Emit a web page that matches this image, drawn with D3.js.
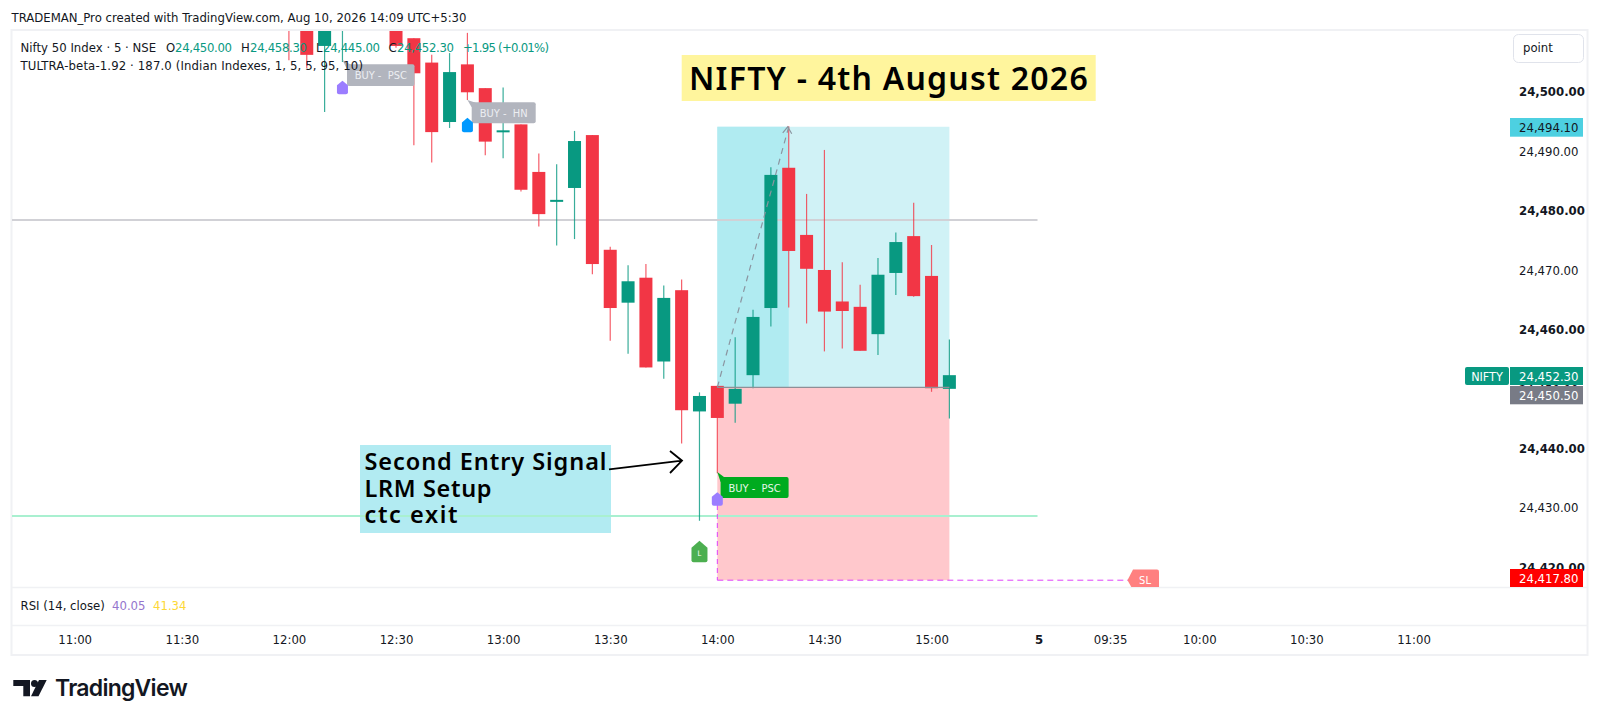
<!DOCTYPE html>
<html>
<head>
<meta charset="utf-8">
<script src="https://cdn.jsdelivr.net/npm/d3@7"></script>
<style>
  html, body { margin: 0; padding: 0; background: #fff; overflow: hidden; }
  text { font-family: "DejaVu Sans Condensed", "DejaVu Sans", sans-serif; }
</style>
</head>
<body>
<svg id="chart" width="1600" height="722"></svg>
<script>
// bar index counted in 5 minute bars from 11:00
const barIndex = [12, 13, 14, 15, 16, 17, 18, 19, 20, 21, 22, 23, 24, 25, 26, 27, 28, 29, 30, 31, 32, 33, 34, 35, 36, 37, 38, 39, 40, 41, 42, 43, 44, 45, 46, 47, 48, 49];
const opens = [24518, 24515, 24507.7, 24512, 24522, 24521, 24514, 24509.0, 24504.9, 24494.9, 24504.6, 24500.6, 24493.4, 24494.5, 24486.5, 24481.7, 24483.8, 24492.7, 24473.4, 24464.5, 24468.7, 24454.6, 24466.6, 24446.2, 24450.5, 24447.5, 24452.3, 24463.6, 24487.2, 24475.9, 24470.0, 24464.7, 24463.8, 24459.2, 24469.5, 24475.7, 24469.0, 24450.0];
const highs = [24519, 24516, 24514, 24520, 24523, 24522, 24515, 24509.0, 24506.2, 24506.5, 24509.9, 24500.6, 24500.7, 24494.5, 24489.6, 24487.8, 24493.4, 24492.7, 24473.9, 24470.8, 24471.0, 24467.4, 24468.4, 24449.4, 24450.5, 24458.7, 24463.3, 24487.3, 24494.2, 24482.8, 24490.2, 24471.3, 24467.5, 24472.0, 24476.3, 24481.3, 24474.2, 24458.3];
const lows = [24505.3, 24504.0, 24496.6, 24505.0, 24513, 24512, 24507.4, 24491.0, 24488.1, 24493.9, 24498.6, 24489.3, 24488.8, 24483.2, 24477.3, 24474.1, 24475.2, 24469.3, 24458.1, 24455.9, 24453.6, 24451.7, 24440.8, 24427.8, 24435.8, 24444.3, 24450.1, 24460.5, 24463.7, 24461.0, 24456.3, 24456.8, 24456.4, 24455.7, 24465.8, 24465.5, 24449.5, 24445.0];
const closes = [24512, 24506.2, 24513, 24518, 24516, 24515, 24507.7, 24503.1, 24493.2, 24503.3, 24499.9, 24491.6, 24493.5, 24483.5, 24479.4, 24481.8, 24491.7, 24471.0, 24463.6, 24468.1, 24453.6, 24465.3, 24446.4, 24448.8, 24445.1, 24450.0, 24462.1, 24486.0, 24473.2, 24470.2, 24463.0, 24463.1, 24456.4, 24469.2, 24474.7, 24465.6, 24450.1, 24452.3];

const priceTicks = [24500, 24490, 24480, 24470, 24460, 24450, 24440, 24430, 24420];
const timeTickBars = [0, 6, 12, 18, 24, 30, 36, 42, 48, 54, 58, 63, 69, 75];
const timeTickLabels = ['11:00', '11:30', '12:00', '12:30', '13:00', '13:30', '14:00', '14:30', '15:00', '5', '09:35', '10:00', '10:30', '11:00'];

// drawn levels and the long position tool
const greyLevel = 24478.4;
const greenLevel = 24428.6;
const entryPrice = 24450.5;
const entryLine = 24450.25; // the line sits a touch under the tag value
const targetPrice = 24494.1;
const stopPrice = 24417.8;
const lastPrice = 24452.3;
const positionBars = [36, 49];
const peakBar = 40;

const RED = '#f23645', GREEN = '#089981';

const svg = d3.select('#chart');
const x = d3.scaleLinear().domain([0, 75]).range([74.7, 1413.5]);
const y = d3.scaleLinear().domain([24500, 24417.8]).range([91.7, 580.2]);
const bodyW = 13;

svg.append('defs').append('clipPath').attr('id', 'pane')
  .append('rect').attr('x', 12).attr('y', 31).attr('width', 1498).attr('height', 556);
svg.select('defs').append('clipPath').attr('id', 'axisClip')
  .append('rect').attr('x', 1510).attr('y', 31).attr('width', 78).attr('height', 556);

// frame
const frame = svg.append('g').attr('stroke', '#f0f1f4').attr('fill', 'none');
frame.append('rect').attr('x', 11.5).attr('y', 30).attr('width', 1576).attr('height', 625).attr('stroke-width', 2);
frame.append('line').attr('x1', 12).attr('x2', 1588).attr('y1', 587.5).attr('y2', 587.5).attr('stroke-width', 1.5);
frame.append('line').attr('x1', 12).attr('x2', 1588).attr('y1', 625.5).attr('y2', 625.5).attr('stroke-width', 1.5);

const pane = svg.append('g').attr('clip-path', 'url(#pane)');

// position tool boxes
const px0 = x(positionBars[0]), px1 = x(positionBars[1]), pk = x(peakBar);
pane.append('rect').attr('x', px0).attr('width', px1 - px0).attr('y', y(targetPrice))
  .attr('height', y(entryLine) - y(targetPrice)).attr('fill', '#d0f2f6');
pane.append('rect').attr('x', px0).attr('width', pk - px0).attr('y', y(targetPrice))
  .attr('height', y(entryLine) - y(targetPrice)).attr('fill', '#b0ebf1');
pane.append('rect').attr('x', px0).attr('width', px1 - px0).attr('y', y(entryLine))
  .attr('height', y(stopPrice) - y(entryLine)).attr('fill', '#ffc8cc');

// horizontal levels
[[greyLevel, '#d1d1d6'], [greenLevel, '#a9f0d0']].forEach(([v, c]) => {
  pane.append('line').attr('x1', 12).attr('x2', 1037.5).attr('y1', y(v)).attr('y2', y(v))
    .attr('stroke', c).attr('stroke-width', 2);
});

// candles
const bars = barIndex.map((n, i) => ({ n, o: opens[i], h: highs[i], l: lows[i], c: closes[i] }));
const candle = pane.selectAll('g.candle').data(bars).join('g').attr('class', 'candle');
candle.append('line')
  .attr('x1', d => x(d.n)).attr('x2', d => x(d.n))
  .attr('y1', d => y(d.h)).attr('y2', d => y(d.l))
  .attr('stroke', d => d.c >= d.o ? GREEN : RED)
  .attr('stroke-opacity', 0.8)
  .attr('stroke-width', 1.2);
candle.append('rect')
  .attr('x', d => x(d.n) - bodyW / 2).attr('width', bodyW)
  .attr('y', d => y(Math.max(d.o, d.c)))
  .attr('height', d => Math.max(2, Math.abs(y(d.o) - y(d.c))))
  .attr('fill', d => d.c >= d.o ? GREEN : RED);

// entry line, path to peak, stop line
pane.append('line').attr('x1', px0).attr('x2', px1).attr('y1', y(entryLine)).attr('y2', y(entryLine))
  .attr('stroke', '#8f8f96').attr('stroke-width', 1.2);
pane.append('line').attr('x1', px0).attr('x2', pk).attr('y1', y(entryLine)).attr('y2', y(targetPrice))
  .attr('stroke', '#8b95a0').attr('stroke-width', 1.2).attr('stroke-dasharray', '6 5');
pane.append('path')
  .attr('d', `M${pk - 6},${y(targetPrice) + 6}L${pk - 1},${y(targetPrice)}L${pk + 3},${y(targetPrice) + 7}`)
  .attr('fill', 'none').attr('stroke', '#8b95a0').attr('stroke-width', 1.2);
pane.append('line').attr('x1', px0).attr('x2', 1128).attr('y1', y(stopPrice)).attr('y2', y(stopPrice))
  .attr('stroke', '#e040fb').attr('stroke-width', 1).attr('stroke-dasharray', '6 4');
pane.append('line').attr('x1', px0).attr('x2', px0).attr('y1', 505).attr('y2', y(stopPrice))
  .attr('stroke', '#e040fb').attr('stroke-width', 1).attr('stroke-dasharray', '5 4');

// signal markers and labels
function house(g, cx, top, w, h, fill) {
  g.append('path')
    .attr('d', `M${cx},${top}L${cx + w / 2},${top + h * 0.33}V${top + h - 2}Q${cx + w / 2},${top + h} ${cx + w / 2 - 2},${top + h}H${cx - w / 2 + 2}Q${cx - w / 2},${top + h} ${cx - w / 2},${top + h - 2}V${top + h * 0.33}Z`)
    .attr('fill', fill);
}
function signal(g, text, bx, by, bw, bh, tipX, tipY, fill, color) {
  g.append('path').attr('d', `M${tipX},${tipY}L${bx + 4},${by + 0.5}L${bx},${by + 5}Z`).attr('fill', fill);
  g.append('rect').attr('x', bx).attr('y', by).attr('width', bw).attr('height', bh).attr('rx', 2).attr('fill', fill);
  g.append('text').attr('x', bx + bw / 2).attr('y', by + bh / 2 + 4).attr('text-anchor', 'middle')
    .attr('font-size', 11).attr('font-weight', 500).attr('fill', color).attr('xml:space', 'preserve').text(text);
}
signal(pane, 'BUY -  PSC', 347, 64.3, 67.5, 21.7, x(15), 60, '#b2b5be', '#eceef2');
house(pane, x(15), 80.7, 11, 13.6, '#9b7dff');
signal(pane, 'BUY -  HN', 471.7, 102.3, 64, 21, x(22), 100, '#b2b5be', '#eceef2');
house(pane, x(22), 117.7, 11, 14.6, '#0099ff');
signal(pane, 'BUY -  PSC', 720.6, 477, 68, 21, x(36), 472, '#00ab1f', '#e6f7ea');
house(pane, x(36), 492.3, 11, 13.4, '#9b7dff');
house(pane, x(35), 540.7, 16, 21.6, '#4caf50');
pane.append('text').attr('x', x(35)).attr('y', 556).attr('text-anchor', 'middle').attr('font-size', 7.5).attr('fill', '#fff').text('L');

// SL flag
pane.append('path').attr('d', `M1127.5,${y(stopPrice)}L1133,569.5H1157Q1159,569.5 1159,571.5V590H1133Z`).attr('fill', '#ff8080');
pane.append('text').attr('x', 1145).attr('y', 584).attr('text-anchor', 'middle').attr('font-size', 11).attr('fill', '#fff').text('SL');

// note box and arrow
pane.append('rect').attr('x', 360).attr('y', 445).attr('width', 251).attr('height', 88).attr('fill', '#b2ebf2').lower();
const noteLines = ['Second Entry Signal', 'LRM Setup', 'ctc exit'];
const noteWidths = [242, 127, 93];
noteLines.forEach((t, i) => {
  pane.append('text').attr('x', 364.5).attr('y', 470 + i * 26.5).attr('font-size', 23.5).attr('font-weight', 600)
    .style('font-family', '"Noto Sans"').attr('textLength', noteWidths[i]).attr('fill', '#000').text(t);
});
pane.append('path').attr('d', 'M609,469.3L682,460.7M670,451L682,460.7L670,473').attr('fill', 'none').attr('stroke', '#000').attr('stroke-width', 1.8);

// title
pane.append('rect').attr('x', 681.7).attr('y', 55).attr('width', 414).attr('height', 46).attr('fill', '#fff59d');
pane.append('text').attr('x', 689).attr('y', 90).attr('font-size', 32).attr('font-weight', 600)
  .style('font-family', '"Noto Sans"').attr('textLength', 398.7).attr('fill', '#000').text('NIFTY - 4th August 2026');

// price axis
const axisPane = svg.append('g').attr('clip-path', 'url(#axisClip)');
const yAxis = axisPane.append('g').attr('transform', 'translate(1510,0)')
  .call(d3.axisRight(y).tickValues(priceTicks).tickSize(0).tickPadding(9).tickFormat(d3.format(',.2f')));
yAxis.select('.domain').remove();
yAxis.selectAll('text').attr('font-size', 13).attr('fill', '#131722')
  .style('font-family', '"DejaVu Sans Condensed"')
  .attr('font-weight', d => d % 20 === 0 ? 600 : 400);

function priceTag(v, top, h, fill, color) {
  axisPane.append('rect').attr('x', 1510).attr('y', top).attr('width', 73).attr('height', h).attr('fill', fill);
  axisPane.append('text').attr('x', 1519).attr('y', top + h / 2 + 4.5).attr('font-size', 13).attr('fill', color).text(d3.format(',.2f')(v));
}
priceTag(targetPrice, 118, 18.7, '#4dd0e1', '#131722');
priceTag(lastPrice, 367, 18, GREEN, '#fff');
priceTag(entryPrice, 386, 18.3, '#787b86', '#fff');
priceTag(stopPrice, 569, 18, '#ff0000', '#fff');
svg.append('rect').attr('x', 1465).attr('y', 367).attr('width', 44).attr('height', 18).attr('rx', 2).attr('fill', GREEN);
svg.append('text').attr('x', 1487).attr('y', 381).attr('text-anchor', 'middle').attr('font-size', 12.5).attr('fill', '#fff').text('NIFTY');

// point button
svg.append('rect').attr('x', 1513.5).attr('y', 34.5).attr('width', 70).attr('height', 28).attr('rx', 5).attr('fill', '#fff').attr('stroke', '#e0e3eb');
svg.append('text').attr('x', 1523).attr('y', 51.7).attr('font-size', 13).attr('fill', '#131722').text('point');

// time axis
const xAxis = svg.append('g').attr('transform', 'translate(0,626)')
  .call(d3.axisBottom(x).tickValues(timeTickBars).tickSize(0).tickPadding(9)
    .tickFormat(d => timeTickLabels[timeTickBars.indexOf(d)]));
xAxis.select('.domain').remove();
xAxis.selectAll('text').attr('font-size', 13).attr('fill', '#131722')
  .style('font-family', '"DejaVu Sans Condensed"')
  .attr('font-weight', d => d === 54 ? 700 : 400);

// legend
function legend(xp, yp, t, fill, len) {
  const el = svg.append('text').attr('x', xp).attr('y', yp).attr('font-size', 13).attr('fill', fill).attr('xml:space', 'preserve').text(t);
  if (len) el.attr('textLength', len);
}
const INK = '#131722', OHLC = '#089981';
legend(20.5, 51.5, 'Nifty 50 Index · 5 · NSE', INK, 135.7);
legend(166, 51.5, 'O', INK); legend(175, 51.5, '24,450.00', OHLC, 57);
legend(241, 51.5, 'H', INK); legend(250, 51.5, '24,458.30', OHLC, 57);
legend(316, 51.5, 'L', INK); legend(323, 51.5, '24,445.00', OHLC, 57);
legend(388.5, 51.5, 'C', INK); legend(397, 51.5, '24,452.30', OHLC, 57);
legend(463, 51.5, '+1.95 (+0.01%)', OHLC, 86);
legend(20.5, 70, 'TULTRA-beta-1.92 · 187.0 (Indian Indexes, 1, 5, 5, 95, 10)', INK, 342.5);
legend(20.5, 610, 'RSI (14, close)', INK);
legend(112, 610, '40.05', '#9575cd');
legend(153, 610, '41.34', '#fdd835');

// header
svg.append('text').attr('x', 11.5).attr('y', 22).attr('font-size', 13).attr('fill', '#131722').attr('textLength', 455)
  .text('TRADEMAN_Pro created with TradingView.com, Aug 10, 2026 14:09 UTC+5:30');

// logo
const logo = svg.append('g').attr('fill', '#131722');
logo.append('path').attr('d', 'M13.3,680H30V696.2H23.3V686H13.3Z');
logo.append('circle').attr('cx', 34.5).attr('cy', 683.5).attr('r', 3.5);
logo.append('path').attr('d', 'M39,680H46.7L38.5,696.2H31Z');
svg.append('text').attr('x', 55).attr('y', 696.3).attr('font-size', 23).attr('font-weight', 600)
  .style('font-family', 'Inter').attr('textLength', 132.7).attr('fill', '#131722').text('TradingView');
</script>
</body>
</html>
